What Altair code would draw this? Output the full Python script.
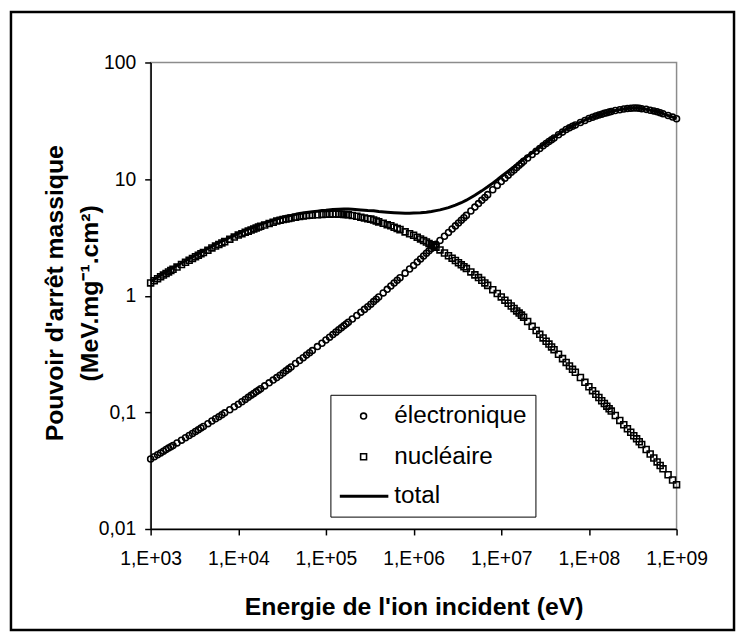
import altair as alt
import pandas as pd

# ---------------- data ----------------
mantissas = [1.0, 1.1, 1.2, 1.3, 1.4, 1.5, 1.6, 1.7, 1.8, 2.0, 2.25, 2.5, 2.75,
             3.0, 3.25, 3.5, 3.75, 4.0, 4.5, 5.0, 5.5, 6.0, 6.5, 7.0, 8.0, 9.0]
decades = [3, 4, 5, 6, 7, 8]
last_energy = 1e9
energy = [m * 10 ** d for d in decades for m in mantissas] + [last_energy]

electronique = [
    # 1e3 decade
    0.0398, 0.0416, 0.0433, 0.0449, 0.0465, 0.0480, 0.0494, 0.0508, 0.0521, 0.0547, 0.0578, 0.0607, 0.0634,
    0.0659, 0.0685, 0.0710, 0.0735, 0.0757, 0.0800, 0.0843, 0.0881, 0.0918, 0.0955, 0.0991, 0.1054, 0.1117,
    # 1e4 decade
    0.1175, 0.1233, 0.1291, 0.1346, 0.1400, 0.1452, 0.1500, 0.1549, 0.1596, 0.1687, 0.1791, 0.1892, 0.1986,
    0.2080, 0.2173, 0.2270, 0.2360, 0.2449, 0.2624, 0.2786, 0.2944, 0.3097, 0.3251, 0.3388, 0.3664, 0.3917,
    # 1e5 decade
    0.417, 0.4416, 0.4645, 0.4875, 0.5105, 0.532, 0.552, 0.573, 0.593, 0.632, 0.678, 0.723, 0.764,
    0.805, 0.847, 0.891, 0.933, 0.975, 1.057, 1.135, 1.211, 1.285, 1.358, 1.429, 1.563, 1.694,
    # 1e6 decade
    1.820, 1.945, 2.070, 2.193, 2.312, 2.427, 2.541, 2.649, 2.761, 2.979, 3.236, 3.491, 3.733,
    3.972, 4.207, 4.436, 4.667, 4.887, 5.333, 5.754, 6.166, 6.577, 6.966, 7.362, 8.110, 8.831,
    # 1e7 decade
    9.55, 10.19, 10.81, 11.43, 12.00, 12.59, 13.15, 13.68, 14.22, 15.17, 16.26, 17.34, 18.32,
    19.32, 20.23, 21.04, 21.78, 22.54, 23.99, 25.29, 26.61, 27.54, 28.38, 29.11, 30.55, 31.84,
    # 1e8 decade
    33.1, 33.96, 34.75, 35.48, 36.06, 36.64, 37.07, 37.58, 38.02, 38.73, 39.36, 39.90, 40.27,
    40.55, 40.74, 40.64, 40.46, 40.18, 39.63, 38.99, 38.46, 37.76, 37.07, 36.39, 35.08, 34.04,
    # 1e9
    32.96,
]

nucleaire = [
    # 1e3 decade
    1.288, 1.346, 1.400, 1.452, 1.503, 1.552, 1.600, 1.644, 1.687, 1.762, 1.854, 1.936, 2.014,
    2.089, 2.163, 2.228, 2.291, 2.350, 2.460, 2.570, 2.667, 2.754, 2.838, 2.911, 3.055, 3.184,
    # 1e4 decade
    3.311, 3.404, 3.499, 3.581, 3.664, 3.741, 3.811, 3.882, 3.945, 4.046, 4.159, 4.266, 4.365,
    4.43, 4.50, 4.56, 4.60, 4.64, 4.72, 4.79, 4.84, 4.87, 4.89, 4.92, 4.95, 4.98,
    # 1e5 decade
    4.99, 5.01, 5.02, 5.02, 5.01, 5.00, 4.98, 4.97, 4.94, 4.88, 4.80, 4.72, 4.65,
    4.58, 4.54, 4.46, 4.38, 4.30, 4.18, 4.07, 3.98, 3.87, 3.78, 3.69, 3.53, 3.40,
    # 1e6 decade
    3.30, 3.18, 3.07, 2.97, 2.89, 2.81, 2.74, 2.68, 2.612, 2.472, 2.328, 2.203, 2.099,
    2.004, 1.919, 1.841, 1.774, 1.710, 1.600, 1.510, 1.432, 1.355, 1.288, 1.227, 1.127, 1.045,
    # 1e7 decade
    0.977, 0.916, 0.863, 0.817, 0.778, 0.741, 0.710, 0.682, 0.655, 0.601, 0.547, 0.504, 0.467,
    0.435, 0.407, 0.385, 0.364, 0.345, 0.315, 0.289, 0.268, 0.250, 0.234, 0.221, 0.199, 0.181,
    # 1e8 decade
    0.166, 0.1535, 0.1429, 0.1340, 0.1259, 0.1191, 0.1130, 0.1074, 0.1026, 0.0940, 0.0853, 0.0783, 0.0724,
    0.0675, 0.0631, 0.0593, 0.0560, 0.0530, 0.0480, 0.0440, 0.0406, 0.0376, 0.0350, 0.0328, 0.0292, 0.0263,
    # 1e9
    0.0240,
]

total_mantissas = [1.0, 1.2, 1.4, 1.6, 1.8, 2.0, 2.5, 3.0, 3.5, 4.0, 5.0, 6.0, 7.0, 8.0, 9.0]
total_energy = [m * 10 ** d for d in decades for m in total_mantissas] + [last_energy]
total = [
    1.328, 1.443, 1.550, 1.649, 1.739, 1.817, 1.997, 2.155, 2.299, 2.426, 2.654, 2.846, 3.010, 3.160, 3.296,
    3.429, 3.628, 3.804, 3.961, 4.105, 4.215, 4.455, 4.638, 4.787, 4.885, 5.069, 5.180, 5.259, 5.316, 5.372,
    5.407, 5.485, 5.521, 5.532, 5.533, 5.512, 5.443, 5.385, 5.351, 5.275, 5.205, 5.155, 5.119, 5.093, 5.094,
    5.120, 5.140, 5.202, 5.281, 5.373, 5.451, 5.694, 5.976, 6.277, 6.597, 7.264, 7.932, 8.589, 9.237, 9.876,
    10.53, 11.67, 12.78, 13.86, 14.88, 15.77, 17.84, 19.76, 21.43, 22.89, 25.58, 27.79, 29.33, 30.75, 32.02,
    33.27, 34.89, 36.19, 37.18, 38.12, 38.82, 39.98, 40.62, 40.70, 40.23, 39.03, 37.80, 36.42, 35.11, 34.07,
    32.98,
]

series_names = ["électronique", "nucléaire", "total"]
series_shapes = ["circle", "square"]
series_sizes = [36, 36]

x_tick_values = [1e3, 1e4, 1e5, 1e6, 1e7, 1e8, 1e9]
x_tick_labels = ["1,E+03", "1,E+04", "1,E+05", "1,E+06", "1,E+07", "1,E+08", "1,E+09"]
y_tick_values = [0.01, 0.1, 1, 10, 100]
y_tick_labels = ["0,01", "0,1", "1", "10", "100"]

x_title = "Energie de l'ion incident (eV)"
y_title = ["Pouvoir d'arrêt massique", "(MeV.mg\u207b\u00b9.cm\u00b2)"]

# ---------------- tables ----------------
points_df = pd.DataFrame({
    "energy": energy + energy,
    "value": electronique + nucleaire,
    "serie": [series_names[0]] * len(energy) + [series_names[1]] * len(energy),
})
total_df = pd.DataFrame({"energy": total_energy, "value": total})
dummy = pd.DataFrame({"k": [0]})

FONT = "Liberation Sans"
W, H = 531, 471

x_label_expr = "[" + ",".join("'%s'" % s for s in x_tick_labels) + "][round(log(datum.value)/LN10) - 3]"
y_label_expr = "[" + ",".join("'%s'" % s for s in y_tick_labels) + "][round(log(datum.value)/LN10) + 2]"

x_enc = alt.X(
    "energy:Q",
    scale=alt.Scale(type="log", domain=[1e3, 1e9], nice=False),
    axis=alt.Axis(
        values=x_tick_values, labelExpr=x_label_expr, grid=False,
        tickSize=6, labelPadding=24, labelBaseline="middle",
        labelFlush=False, labelOverlap=False, labelBound=False,
        title=x_title, titleX=W / 2, titleY=86, titleAlign="center",
        titleBaseline="alphabetic", titleAnchor="middle",
    ),
)
y_enc = alt.Y(
    "value:Q",
    scale=alt.Scale(type="log", domain=[0.01, 100], nice=False),
    axis=alt.Axis(
        values=y_tick_values, labelExpr=y_label_expr, grid=False,
        tickSize=6, labelPadding=9, labelBaseline="middle",
        labelFlush=False, labelOverlap=False, labelBound=False,
        title=y_title, titleX=-89, titleY=H / 2 - 3, titleAngle=270,
        titleAlign="center", titleBaseline="alphabetic", titleLineHeight=35,
    ),
)

border = alt.Chart(dummy).mark_rect(
    filled=False, stroke="black", strokeWidth=2.5
).encode(x=alt.value(-141), x2=alt.value(589), y=alt.value(-51), y2=alt.value(573))

line = alt.Chart(total_df).mark_line(color="black", strokeWidth=3).encode(x=x_enc, y=y_enc)

points = alt.Chart(points_df).mark_point(
    filled=False, strokeWidth=1.6, color="black", opacity=1
).encode(
    x=x_enc, y=y_enc,
    shape=alt.Shape("serie:N", scale=alt.Scale(domain=series_names[:2], range=series_shapes), legend=None),
    size=alt.Size("serie:N", scale=alt.Scale(domain=series_names[:2], range=series_sizes), legend=None),
)

# legend (Excel-style box)
LX0, LX1, LY0, LY1 = 182, 389, 336, 459
legend_rows = [357, 398, 438]
legend_box = alt.Chart(dummy).mark_rect(fill="white", stroke="black", strokeWidth=1).encode(
    x=alt.value(LX0), x2=alt.value(LX1), y=alt.value(LY0), y2=alt.value(LY1))
leg_layers = [legend_box]
for i, name in enumerate(series_names):
    if i < 2:
        leg_layers.append(alt.Chart(dummy).mark_point(
            shape=series_shapes[i], filled=False, size=series_sizes[i], strokeWidth=1.6,
            color="black", opacity=1
        ).encode(x=alt.value(215), y=alt.value(legend_rows[i])))
    else:
        leg_layers.append(alt.Chart(dummy).mark_rule(color="black", strokeWidth=3).encode(
            x=alt.value(191), x2=alt.value(240), y=alt.value(legend_rows[i])))
    leg_layers.append(alt.Chart(dummy).mark_text(
        align="left", baseline="middle", font=FONT, fontSize=24.5, color="black"
    ).encode(x=alt.value(246), y=alt.value(legend_rows[i]), text=alt.value(name)))

chart = alt.layer(border, line, points, *leg_layers).properties(
    width=W, height=H,
    padding={"left": 144, "top": 52, "right": 60, "bottom": 104},
    autosize=alt.AutoSizeParams(type="none"),
).configure_view(
    stroke="#8c8c8c", strokeWidth=1.5
).configure_axis(
    labelFont=FONT, labelFontSize=19.5, labelColor="black",
    titleFont=FONT, titleFontSize=25, titleFontWeight="bold", titleColor="black",
    domainColor="black", domainWidth=1.5, tickColor="black", tickWidth=1.5,
)

chart.save("out.html", embed_options={"renderer": "svg", "actions": False})
